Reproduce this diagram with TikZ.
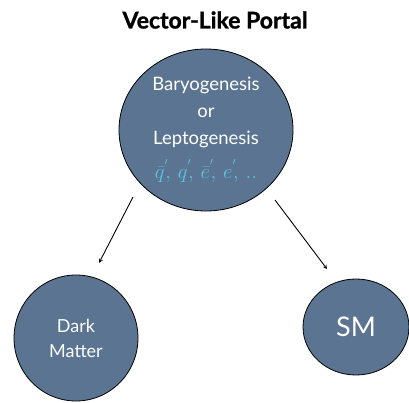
\documentclass[tikz,border=0pt]{standalone}
\usepackage{amsmath, amssymb}
\usepackage{fontspec}
\setmainfont{Lato}
\newfontfamily\titlefont{Lato Bold}[FakeBold=1.2]
\usetikzlibrary{shapes.geometric}
\definecolor{portalblue}{HTML}{5A7491}
\definecolor{quarkcyan}{HTML}{5CC6E2}

\begin{document}
\begin{tikzpicture}[x=1pt,y=-1pt,
  blob/.style={ellipse, draw=black, line width=0.8pt, fill=portalblue,
    text=white, align=center, inner sep=0pt},
  arr/.style={->, >=stealth, line width=0.9pt}]
  \useasboundingbox (0,0) rectangle (409,403);
  \node[font=\fontsize{23}{26}\selectfont\titlefont] (title) at (215,20) {Vector-Like Portal};
  \node[blob, minimum width=174, minimum height=162,
    font=\fontsize{18.5}{27}\selectfont] (genesis) at (206,130)
    {Baryogenesis\\ or\\ Leptogenesis\\[7pt]
     \textcolor{quarkcyan}{\fontsize{22}{24}\selectfont
       $\bar{q}^{'}\!,\,q^{'}\!,\,\bar{e}^{'}\!,\,e^{'}\!,\,..$}};
  \node[blob, minimum width=124, minimum height=126,
    font=\fontsize{18}{25}\selectfont] (dm) at (76,338) {Dark\\ Matter};
  \node[blob, minimum width=106, minimum height=96,
    font=\fontsize{27}{30}\selectfont] (sm) at (356,327) {SM};
  \coordinate (dmstart) at (133,197);
  \coordinate (dmtip) at (99,263);
  \coordinate (smstart) at (275,200);
  \coordinate (smtip) at (327,269);
  \draw[arr] (dmstart) -- (dmtip);
  \draw[arr] (smstart) -- (smtip);
\end{tikzpicture}
\end{document}
